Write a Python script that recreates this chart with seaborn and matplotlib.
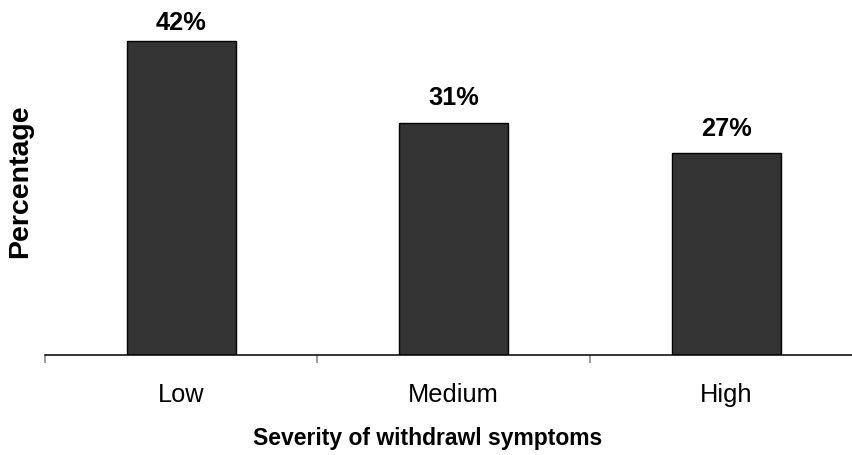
import matplotlib
matplotlib.use("Agg")
import matplotlib.pyplot as plt
import seaborn as sns
import pandas as pd

# Share of respondents by severity of withdrawal symptoms
categories = ["Low", "Medium", "High"]
percentages = [42, 31, 27]
value_labels = ["42%", "31%", "27%"]

sns.set_style("white")
plt.rcParams["font.family"] = ["Liberation Sans", "DejaVu Sans"]

df = pd.DataFrame({"severity": categories, "pct": percentages})

fig = plt.figure(figsize=(8.52, 4.55), dpi=100)
ax = fig.add_axes([45 / 852, 100 / 455, 817.5 / 852, 336.4 / 455])

sns.barplot(data=df, x="severity", y="pct", order=categories, color="#333333",
            saturation=1, width=0.4, edgecolor="black", linewidth=1.0, ax=ax)

ax.set_xlim(-0.5, 2.5)
ax.set_ylim(0, 45)

# value labels above each bar
label_offsets = [8, 13, 12]
for i, (v, txt) in enumerate(zip(percentages, value_labels)):
    ax.annotate(txt, xy=(i, v), xytext=(0, label_offsets[i]),
                textcoords="offset points", ha="center", va="baseline",
                fontsize=18.3, fontweight="bold", color="black",
                annotation_clip=False)

# only a bottom axis line; ticks sit between the categories
for side in ("top", "right", "left"):
    ax.spines[side].set_visible(False)
ax.spines["bottom"].set_color("black")
ax.spines["bottom"].set_linewidth(1.1)

ax.set_yticks([])
ax.set_xticks(range(len(categories)))
ax.set_xticklabels(categories)
ax.set_xticks([-0.5, 0.5, 1.5, 2.5], minor=True)
ax.tick_params(axis="x", which="major", length=0, pad=20, labelsize=18.3,
               labelcolor="black")
ax.tick_params(axis="x", which="minor", length=6, width=1.1, color="#808080",
               direction="out", bottom=True)

ax.set_xlabel("Severity of withdrawl symptoms", fontsize=16.5,
              fontweight="bold", color="black")
ax.xaxis.set_label_coords((428 - 45) / 817.5, -0.215)
ax.set_ylabel("Percentage", fontsize=20.5, fontweight="bold", color="black")
ax.yaxis.set_label_coords((33 - 45) / 817.5, (355 - 181) / 336.4)

fig.savefig("out.png", dpi=100, facecolor="white")
